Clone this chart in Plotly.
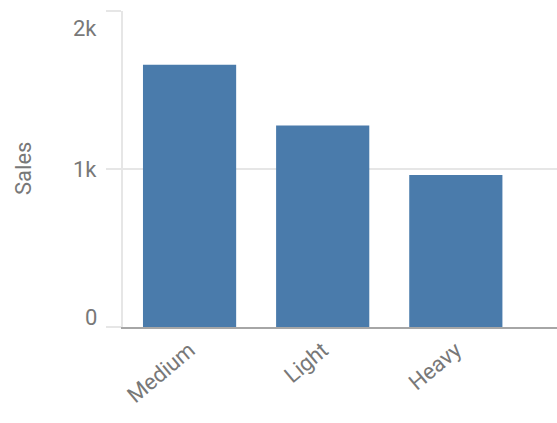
import plotly.graph_objects as go

categories = ["Medium", "Light", "Heavy"]
sales = [1660, 1276, 962]
tick_vals = [0, 1000, 2000]
tick_text = ["0", "1k", "2k"]
y_title = "Sales"

BAR = "#4a7bab"
TXT = "#787878"
GRID = "#e6e6e6"
FONT = "Roboto, Arial, sans-serif"
FS = 22

fig = go.Figure(go.Bar(x=categories, y=sales, marker=dict(color=BAR, line=dict(width=0))))

# tick labels shifted to stay inside the plot, like the reference
shifts = {0: 10, 1000: 0, 2000: -17}
for v, t in zip(tick_vals, tick_text):
    fig.add_annotation(x=0, xref="paper", y=v, yref="y", text=t, showarrow=False,
                       xanchor="right", yanchor="middle", xshift=-24, yshift=shifts[v],
                       font=dict(size=FS, color=TXT, family=FONT))

fig.add_annotation(x=0, xref="paper", y=1000, yref="y", text=y_title, showarrow=False,
                   textangle=-90, xanchor="center", yanchor="middle", xshift=-100,
                   font=dict(size=FS, color=TXT, family=FONT))

fig.update_layout(
    width=557, height=423,
    margin=dict(l=123, r=0, t=11, b=96),
    paper_bgcolor="white", plot_bgcolor="white",
    bargap=0.30, showlegend=False,
    font=dict(family=FONT, color=TXT),
    xaxis=dict(range=[-0.5, 2.76], tickangle=-40, tickfont=dict(size=FS, color=TXT),
               showline=True, linecolor="#a6a6a6", linewidth=1.5, ticks="",
               showgrid=False, zeroline=False),
    yaxis=dict(range=[0, 2000], tickvals=tick_vals, showticklabels=False,
               showgrid=True, gridcolor=GRID, gridwidth=1.5, zeroline=False,
               showline=True, linecolor=GRID, linewidth=1.5,
               ticks="outside", ticklen=15, tickcolor=GRID, tickwidth=1.5),
)

fig.write_html("out.html", config={"displayModeBar": False},
               post_script="document.body.style.margin='0';")
